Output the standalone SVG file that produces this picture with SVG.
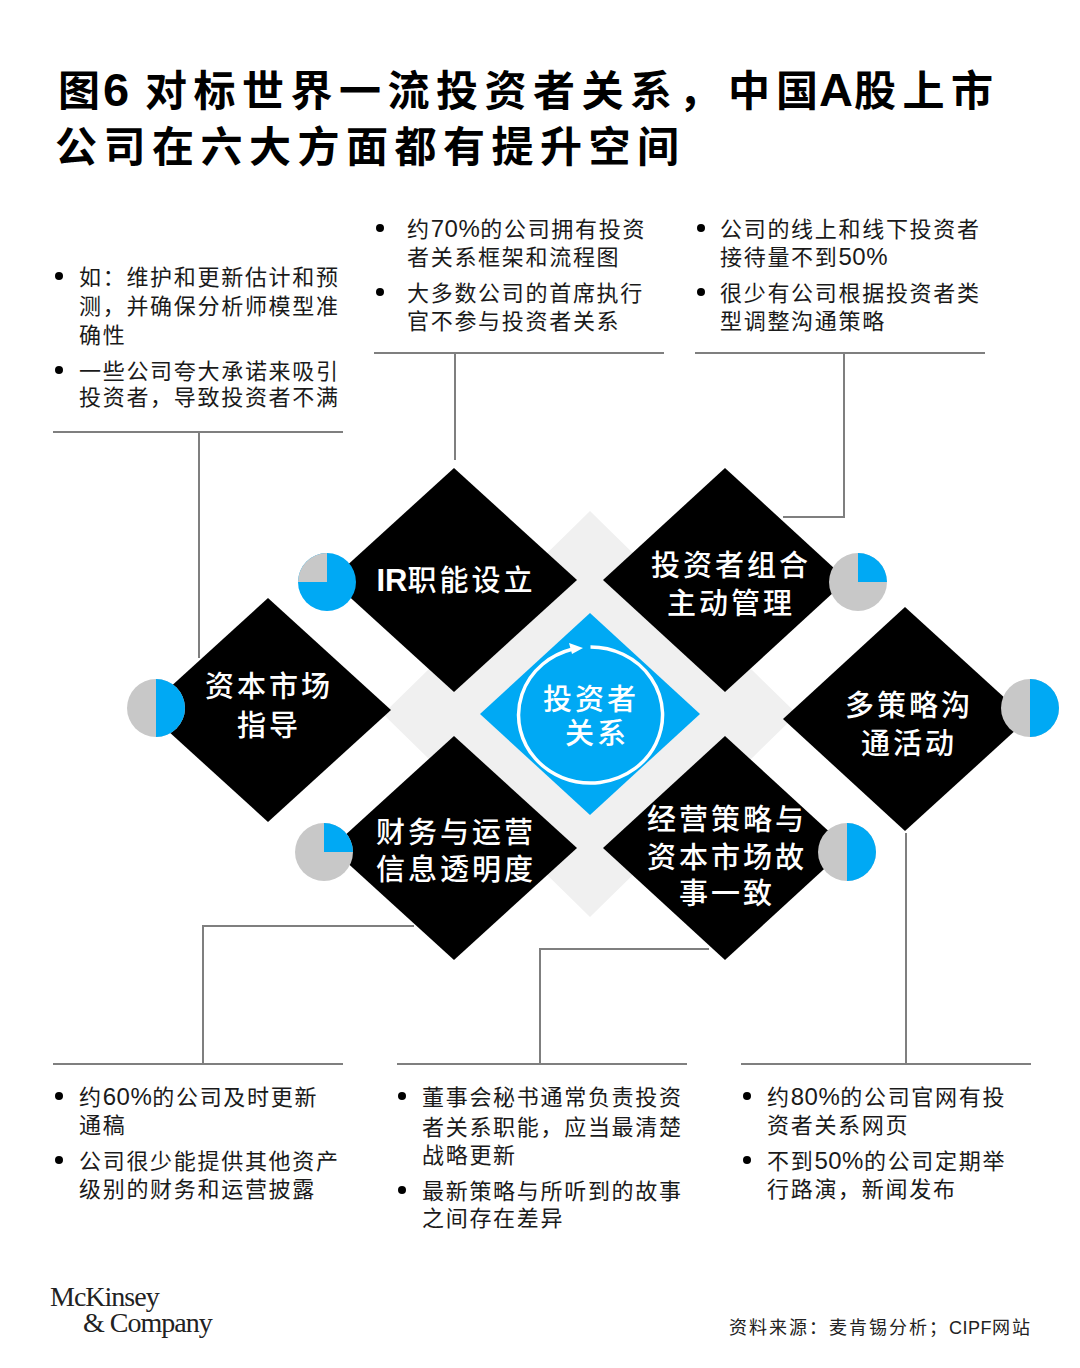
<svg xmlns="http://www.w3.org/2000/svg" width="1080" height="1368" viewBox="0 0 1080 1368">
<style>
text{font-family:"Liberation Sans","Noto Sans CJK SC",sans-serif}
.t{font-size:42px;font-weight:700;fill:#000;letter-spacing:6.5px}
.t0{font-size:42px;font-weight:700;fill:#000}
.l{font-size:47px;font-weight:700;fill:#000}
.b{font-size:22px;fill:#1a1a1a;letter-spacing:1.7px}
.b tspan{font-size:24px;letter-spacing:.5px}
.n{font-size:29px;font-weight:500;fill:#fff;letter-spacing:3px;text-anchor:middle}
.n tspan{font-size:31px;font-weight:700;letter-spacing:0}
.d{fill:#000}
.g{fill:#c8c8c8}
.p{fill:#00a9f4}
.c{fill:none;stroke:#7f7f7f;stroke-width:2}
.s{font-size:18px;fill:#222;letter-spacing:2px}
.m{font-family:"Liberation Serif",serif;font-size:28px;fill:#222;letter-spacing:-1px}
</style>
<rect width="1080" height="1368" fill="#fff"/>
<g id="title">
<text class="t0" x="58" y="106">图</text>
<text class="l" x="103" y="106" font-size="46">6</text>
<text class="t" x="145" y="106">对标世界一流投资者关系，</text>
<text class="t0" x="728 776" y="106">中国</text>
<text class="l" x="819" y="106">A</text>
<text class="t" x="854" y="106">股上市</text>
<text class="t" x="55" y="162">公司在六大方面都有提升空间</text>
</g>
<g id="connectors">
<path class="c" d="M53 432H343M199 432V658"/>
<path class="c" d="M374 353H664M455 353V460"/>
<path class="c" d="M695 353H985M844 353V517H783"/>
<path class="c" d="M53 1064H343M203 1064V926H414"/>
<path class="c" d="M397 1064H687M540 1064V949H709"/>
<path class="c" d="M741 1064H1031M906 1064V833"/>
</g>
<g id="backdrop"><polygon points="590,511 797,714 590,917 383,714" fill="#f0f0f0"/></g>
<g id="center">
<polygon class="p" points="590,613 700,714 590,815 480,714"/>
<path d="M590.5 647A72 68 0 1 1 572 649.3" fill="none" stroke="#fff" stroke-width="3.5"/>
<polygon points="583,648 569,643 572,654" fill="#fff"/>
<text class="n" x="591" y="710">投资者</text>
<text class="n" x="597" y="744">关系</text>
</g>
<g id="node-ir">
<polygon class="d" points="454,468 577,580 454,692 331,580"/>
<circle class="p" cx="327" cy="582" r="29"/><path class="g" d="M327 582V553A29 29 0 0 0 298 582Z"/>
<text class="n" x="456" y="591"><tspan>IR</tspan>职能设立</text>
</g>
<g id="node-portfolio">
<polygon class="d" points="725,468 847,580 725,692 603,580"/>
<circle class="g" cx="858" cy="582" r="29"/><path class="p" d="M858 582V553A29 29 0 0 1 887 582Z"/>
<text class="n" x="731" y="576">投资者组合</text>
<text class="n" x="731" y="614">主动管理</text>
</g>
<g id="node-guidance">
<polygon class="d" points="268,598 391,710 268,822 145,710"/>
<circle class="g" cx="156" cy="708" r="29"/><path class="p" d="M156 679A29 29 0 0 1 156 737Z"/>
<text class="n" x="269" y="697">资本市场</text>
<text class="n" x="269" y="736">指导</text>
</g>
<g id="node-activities">
<polygon class="d" points="905,607 1028,719 905,831 783,719"/>
<circle class="g" cx="1030" cy="708" r="29"/><path class="p" d="M1030 679A29 29 0 0 1 1030 737Z"/>
<text class="n" x="909" y="716">多策略沟</text>
<text class="n" x="909" y="754">通活动</text>
</g>
<g id="node-disclosure">
<polygon class="d" points="454,736 577,848 454,960 331,848"/>
<circle class="g" cx="324" cy="852" r="29"/><path class="p" d="M324 852V823A29 29 0 0 1 353 852Z"/>
<text class="n" x="456" y="843">财务与运营</text>
<text class="n" x="456" y="880">信息透明度</text>
</g>
<g id="node-story">
<polygon class="d" points="725,736 847,848 725,960 603,848"/>
<circle class="g" cx="847" cy="852" r="29"/><path class="p" d="M847 823A29 29 0 0 1 847 881Z"/>
<text class="n" x="727" y="830">经营策略与</text>
<text class="n" x="727" y="868">资本市场故</text>
<text class="n" x="727" y="904">事一致</text>
</g>
<g id="notes-guidance">
<circle cx="59" cy="276" r="4"/><circle cx="59" cy="370" r="4"/>
<text class="b" x="79" y="285">如：维护和更新估计和预</text>
<text class="b" x="79" y="314">测，并确保分析师模型准</text>
<text class="b" x="79" y="343">确性</text>
<text class="b" x="79" y="379">一些公司夸大承诺来吸引</text>
<text class="b" x="79" y="405">投资者，导致投资者不满</text>
</g>
<g id="notes-ir">
<circle cx="380" cy="228" r="4"/><circle cx="380" cy="292" r="4"/>
<text class="b" x="407" y="237">约<tspan>70%</tspan>的公司拥有投资</text>
<text class="b" x="407" y="265">者关系框架和流程图</text>
<text class="b" x="407" y="301">大多数公司的首席执行</text>
<text class="b" x="407" y="329">官不参与投资者关系</text>
</g>
<g id="notes-portfolio">
<circle cx="701" cy="228" r="4"/><circle cx="701" cy="292" r="4"/>
<text class="b" x="720" y="237">公司的线上和线下投资者</text>
<text class="b" x="720" y="265">接待量不到<tspan>50%</tspan></text>
<text class="b" x="720" y="301">很少有公司根据投资者类</text>
<text class="b" x="720" y="329">型调整沟通策略</text>
</g>
<g id="notes-disclosure">
<circle cx="59" cy="1096" r="4"/><circle cx="59" cy="1160" r="4"/>
<text class="b" x="79" y="1105">约<tspan>60%</tspan>的公司及时更新</text>
<text class="b" x="79" y="1133">通稿</text>
<text class="b" x="79" y="1169">公司很少能提供其他资产</text>
<text class="b" x="79" y="1197">级别的财务和运营披露</text>
</g>
<g id="notes-story">
<circle cx="402" cy="1096" r="4"/><circle cx="402" cy="1190" r="4"/>
<text class="b" x="422" y="1105">董事会秘书通常负责投资</text>
<text class="b" x="422" y="1135">者关系职能，应当最清楚</text>
<text class="b" x="422" y="1163">战略更新</text>
<text class="b" x="422" y="1199">最新策略与所听到的故事</text>
<text class="b" x="422" y="1226">之间存在差异</text>
</g>
<g id="notes-activities">
<circle cx="747" cy="1096" r="4"/><circle cx="747" cy="1160" r="4"/>
<text class="b" x="767" y="1105">约<tspan>80%</tspan>的公司官网有投</text>
<text class="b" x="767" y="1133">资者关系网页</text>
<text class="b" x="767" y="1169">不到<tspan>50%</tspan>的公司定期举</text>
<text class="b" x="767" y="1197">行路演，新闻发布</text>
</g>
<g id="footer">
<text class="m" x="50" y="1306">McKinsey</text>
<text class="m" x="83" y="1332">&amp; Company</text>
<text class="s" x="729" y="1334">资料来源：麦肯锡分析；<tspan letter-spacing="0.5">CIPF</tspan>网站</text>
</g>
</svg>
